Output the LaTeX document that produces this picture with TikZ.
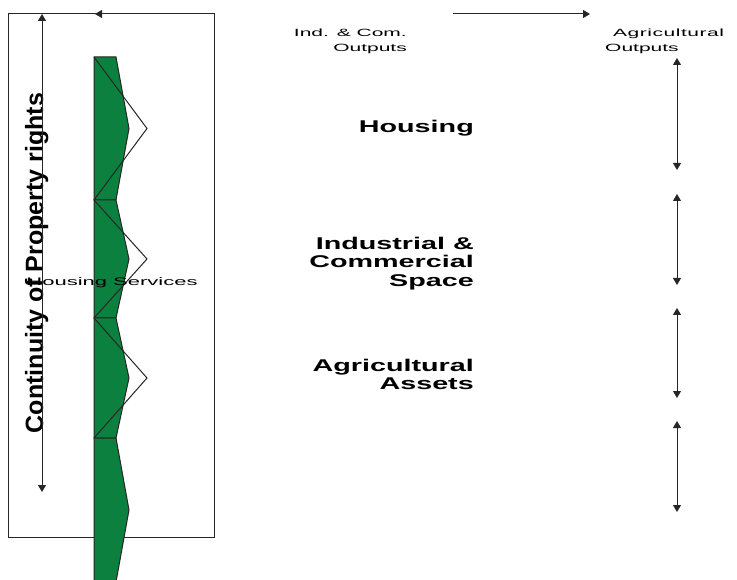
\documentclass[tikz,border=0pt]{standalone}
\usepackage{fontspec}
\setmainfont{Liberation Sans}
\newfontfamily\widesmall[FakeStretch=2.0]{Liberation Sans}
\newfontfamily\widebold[FakeStretch=1.69]{Liberation Sans Bold}
\newfontfamily\plainbold{Liberation Sans Bold}
\usetikzlibrary{arrows.meta}
\definecolor{stripgreen}{RGB}{12,128,62}

\begin{document}
\begin{tikzpicture}[x=1pt,y=-1pt,
	line/.style={draw=black!85,line width=1pt},
	tip/.style={-{Triangle[length=7pt,width=8pt]}},
	both/.style={{Triangle[length=7pt,width=8pt]}-{Triangle[length=7pt,width=8pt]}},
	small/.style={font=\widesmall\fontsize{10.5}{15}\selectfont,inner sep=0pt},
	big/.style={font=\widebold\fontsize{17}{18.5}\selectfont,inner sep=0pt,align=right,anchor=east}]
	\useasboundingbox (0,0) rectangle (737,580);
	\clip (0,0) rectangle (737,580);

	\draw[line] (8,14) rectangle (214,537);

	\foreach \ya/\yb in {57/200,200/318,318/438,438/582}{
		\pgfmathsetmacro\ym{(\ya+\yb)/2}
		\filldraw[fill=stripgreen,line] (94,\ya) -- (116,\ya) -- (129,\ym) -- (116,\yb) -- (94,\yb) -- cycle;
	}
	\foreach \ya/\yb in {57/200,200/318,318/438}{
		\pgfmathsetmacro\ym{(\ya+\yb)/2}
		\draw[line] (94,\ya) -- (147,\ym) -- (94,\yb);
	}

	\node[font=\plainbold\fontsize{25}{25}\selectfont,rotate=90,inner sep=0pt,anchor=base] (rights) at (43,263) {Continuity of Property rights};
	\node[small,font=\widesmall\fontsize{11}{15}\selectfont] (services) at (112,283) {Housing Services};

	\node[small,align=right,anchor=east] (indout) at (407,41.5) {Ind. \& Com.\\Outputs};
	\node[small,align=left,anchor=west] (agrout) at (605,41.5) {\hspace*{8pt}{\addfontfeatures{LetterSpace=5}Agricultural}\\Outputs};

	\node[big] (housing) at (474,128) {Housing};
	\node[big] (indspace) at (474,263.5) {Industrial \&\\Commercial\\Space};
	\node[big] (agrassets) at (474,374.5) {Agricultural\\Assets};

	\coordinate (lefttop) at (42,14);
	\coordinate (leftbot) at (42,492);
	\draw[line,both] (lefttop) -- (leftbot);
	\coordinate (boxstart) at (214,14);
	\coordinate (boxend) at (95,14);
	\draw[line,tip] (boxstart) -- (boxend);
	\coordinate (outstart) at (453,14);
	\coordinate (outend) at (590,14);
	\draw[line,tip] (outstart) -- (outend);

	\foreach \ya/\yb [count=\i] in {58/170,194/285,308/398,421/512}{
		\coordinate (up\i) at (677,\ya);
		\coordinate (down\i) at (677,\yb);
		\draw[line,both] (up\i) -- (down\i);
	}
\end{tikzpicture}
\end{document}
